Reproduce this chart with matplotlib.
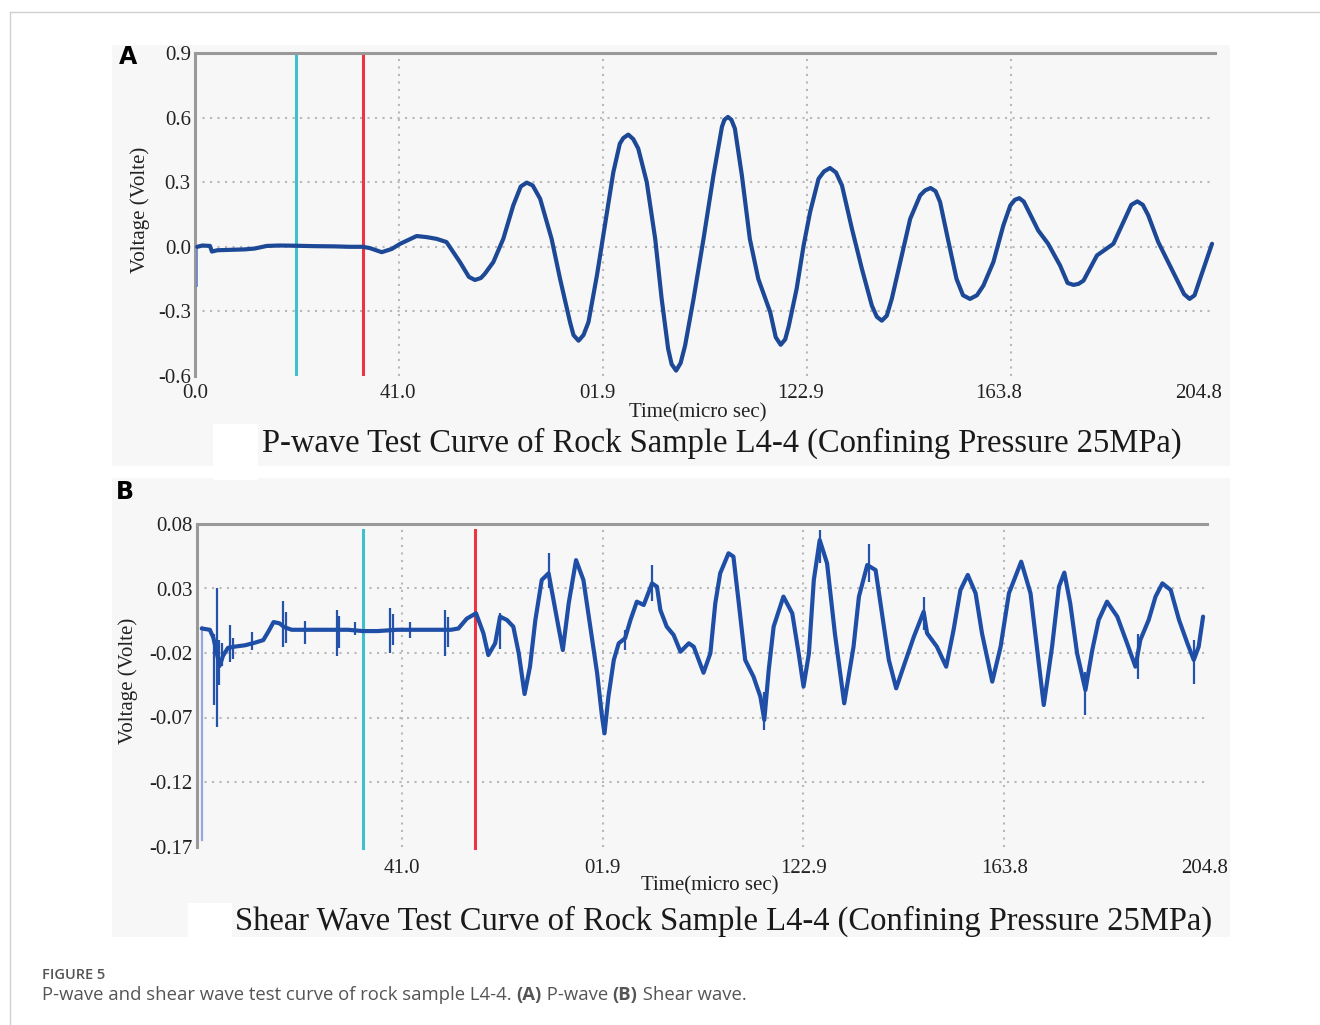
import matplotlib
matplotlib.use('Agg')
import matplotlib.pyplot as plt
from matplotlib.patches import Rectangle
from matplotlib.lines import Line2D

# ---------------- data ----------------
x_grid_vals = [0.0, 40.96, 81.92, 122.88, 163.84, 204.8]
x_tick_labels_a = ['0.0', '41.0', '01.9', '122.9', '163.8', '204.8']
x_tick_labels_b = ['', '41.0', '01.9', '122.9', '163.8', '204.8']
y_ticks_a = [-0.6, -0.3, 0.0, 0.3, 0.6, 0.9]
y_tick_labels_a = ['-0.6', '-0.3', '0.0', '0.3', '0.6', '0.9']
y_ticks_b = [-0.17, -0.12, -0.07, -0.02, 0.03, 0.08]
y_tick_labels_b = ['-0.17', '-0.12', '-0.07', '-0.02', '0.03', '0.08']

p_time = [0.45, 1.5, 3.0, 3.4, 4.5, 7, 10, 12, 14.4, 17, 20, 24, 28, 31, 33.7, 35.1,
          37.5, 39.5, 41.2, 44.5, 46.5, 48.5, 50.5, 53.2, 55.0, 56.2, 57.4, 58.2, 59.9,
          61.9, 63.9, 65.4, 66.6, 67.8, 69.3, 71.6, 73.3, 75.3, 76.0, 77.0, 78.0, 79.0,
          80.7, 82.3, 84.0, 85.3, 86.0, 87.0, 88.0, 89.0, 90.7, 92.4, 93.7, 95.0, 95.7,
          96.6, 97.5, 98.4, 100.1, 102.1, 104.1, 105.8, 106.3, 107.0, 107.7, 108.4,
          109.8, 111.4, 113.1, 115.5, 116.6, 117.6, 118.5, 119.2, 120.8, 122.2, 123.5,
          125.2, 126.3, 127.5, 128.7, 129.9, 131.9, 133.9, 135.9, 136.9, 137.9, 138.9,
          139.9, 141.9, 143.6, 145.6, 146.6, 147.7, 148.7, 149.6, 151.3, 152.9, 154.2,
          155.6, 157.0, 158.3, 160.3, 162.3, 163.7, 164.6, 165.5, 166.4, 167.3, 169.3,
          171.3, 173.7, 175.2, 176.4, 177.4, 178.4, 181.1, 184.4, 186.7, 188.0, 189.2,
          190.3, 191.4, 193.4, 195.4, 197.4, 198.6, 199.7, 200.7, 201.8, 204.2]
p_volt = [0.0, 0.006, 0.004, -0.022, -0.016, -0.014, -0.012, -0.008, 0.004, 0.006, 0.005,
          0.003, 0.002, 0.0, 0.0, -0.006, -0.025, -0.01, 0.014, 0.05, 0.045, 0.037, 0.022,
          -0.071, -0.14, -0.154, -0.145, -0.125, -0.071, 0.037, 0.192, 0.28, 0.298, 0.285,
          0.223, 0.037, -0.149, -0.35, -0.41, -0.436, -0.41, -0.35, -0.133, 0.099, 0.347,
          0.479, 0.505, 0.521, 0.50, 0.456, 0.301, 0.037, -0.242, -0.474, -0.545, -0.575,
          -0.54, -0.459, -0.242, 0.037, 0.332, 0.557, 0.59, 0.603, 0.59, 0.549, 0.332,
          0.037, -0.149, -0.304, -0.42, -0.455, -0.43, -0.37, -0.195, 0.006, 0.161, 0.316,
          0.35, 0.366, 0.345, 0.285, 0.084, -0.102, -0.273, -0.325, -0.343, -0.32, -0.242,
          -0.04, 0.13, 0.239, 0.262, 0.273, 0.258, 0.208, 0.022, -0.149, -0.225, -0.242,
          -0.225, -0.18, -0.071, 0.099, 0.192, 0.218, 0.226, 0.21, 0.169, 0.076, 0.014,
          -0.087, -0.168, -0.177, -0.172, -0.157, -0.04, 0.014, 0.13, 0.195, 0.211, 0.195,
          0.146, 0.022, -0.071, -0.164, -0.22, -0.242, -0.225, -0.149, 0.014]
p_start_t = 0.35
p_start_range = [-0.18, 0.0]
p_cyan_t = 20.3
p_red_t = 33.7

s_time = [0.15, 1.8, 2.5, 3.2, 3.8, 4.5, 5.5, 7, 9, 11, 12.7, 13.8, 14.8, 16, 17, 18.5,
          22, 26, 28, 30, 33, 36, 40, 44, 48, 51, 52.5, 54.2, 56.1, 57.6, 58.6, 60.0,
          61.0, 62.4, 63.7, 64.8, 66.0, 67.1, 68.2, 69.5, 70.9, 71.9, 72.9, 73.8, 75.0,
          76.5, 78.0, 79.4, 80.8, 81.8, 82.3, 83.1, 84.2, 85.2, 86.5, 87.6, 88.9, 90.3,
          92.0, 93.0, 93.7, 95.0, 96.4, 97.8, 99.5, 100.5, 102.5, 103.9, 104.9, 105.9,
          107.6, 108.6, 109.7, 111.0, 112.7, 114.1, 114.9, 115.8, 116.8, 118.8, 120.6,
          121.9, 122.9, 124.0, 125.0, 126.2, 127.7, 129.3, 131.2, 133.1, 134.2, 135.9,
          137.6, 138.9, 140.3, 141.8, 143.3, 145.4, 147.4, 148.1, 150.1, 152.0, 153.5,
          154.9, 156.4, 158.0, 159.3, 161.4, 163.1, 164.8, 167.3, 169.2, 170.5, 171.9,
          173.6, 175.0, 176.1, 177.3, 178.7, 180.4, 181.8, 183.1, 184.8, 186.9, 188.9,
          190.6, 191.6, 193.3, 194.7, 196.1, 197.8, 199.5, 201.2, 202.5, 203.5, 204.4]
s_volt = [-0.001, -0.002, -0.008, -0.02, -0.03, -0.022, -0.016, -0.015, -0.014, -0.012,
          -0.01, -0.003, 0.004, 0.003, 0.0, -0.002, -0.002, -0.002, -0.002, -0.002, -0.003,
          -0.003, -0.002, -0.002, -0.002, -0.002, -0.001, 0.0066, 0.0108, -0.0047, -0.0216,
          -0.0125, 0.0082, 0.0056, 0.0004, -0.02, -0.0518, -0.0306, 0.0056, 0.0366, 0.0418,
          0.0211, 0.0004, -0.0177, 0.0185, 0.052, 0.0366, 0.0004, -0.0357, -0.0694, -0.0823,
          -0.0539, -0.0254, -0.0125, -0.0086, 0.0056, 0.0198, 0.0172, 0.034, 0.0314, 0.0133,
          0.0004, -0.006, -0.019, -0.0125, -0.0151, -0.0353, -0.0202, 0.0185, 0.0418, 0.0573,
          0.0547, 0.0185, -0.0254, -0.0384, -0.0539, -0.0719, -0.0332, 0.0004, 0.0237,
          0.0108, -0.0202, -0.046, -0.0202, 0.0366, 0.0676, 0.0495, -0.005, -0.059, -0.0151,
          0.0237, 0.0482, 0.0443, 0.0108, -0.0254, -0.0474, -0.0306, -0.0074, 0.012, -0.0047,
          -0.0151, -0.0306, -0.0022, 0.0288, 0.0405, 0.0263, -0.0047, -0.0422, -0.0151,
          0.0263, 0.0508, 0.0263, -0.0151, -0.0603, -0.0151, 0.0314, 0.0423, 0.0185, -0.0202,
          -0.0487, -0.0177, 0.0056, 0.0198, 0.0082, -0.0125, -0.0306, -0.0099, 0.0056, 0.0237,
          0.034, 0.0288, 0.0056, -0.0125, -0.0254, -0.0151, 0.0082]
# noise bursts on the shear trace (time, low, high)
s_spike_t = [2.6, 3.2, 3.6, 4.2, 5.9, 6.5, 10.5, 16.8, 17.3, 21.2, 27.7, 28.2, 31.5, 38.6,
             39.1, 42.7, 49.8, 50.3, 61.0, 70.9, 86.5, 92.0, 114.9, 126.2, 136.2, 147.4,
             180.4, 191.2, 202.5]
s_spike_lo = [-0.06, -0.077, -0.045, -0.03, -0.027, -0.025, -0.018, -0.015, -0.012, -0.013,
              -0.022, -0.016, -0.006, -0.02, -0.014, -0.008, -0.022, -0.015, -0.017, 0.03,
              -0.018, 0.02, -0.0797, 0.05, 0.035, -0.002, -0.068, -0.04, -0.044]
s_spike_hi = [-0.005, 0.030, -0.01, -0.012, 0.002, -0.008, -0.004, 0.020, 0.012, 0.005,
              0.013, 0.009, 0.004, 0.015, 0.01, 0.004, 0.013, 0.008, 0.0112, 0.0573,
              -0.002, 0.0483, -0.05, 0.075, 0.0645, 0.0237, -0.035, -0.005, -0.01]
s_start_t = 0.15
s_start_range = [-0.165, 0.0]
s_cyan_t = 33.1
s_red_t = 55.9

title_a = 'P-wave Test Curve of Rock Sample L4-4 (Confining Pressure 25MPa)'
title_b = 'Shear Wave Test Curve of Rock Sample L4-4 (Confining Pressure 25MPa)'
x_label = 'Time(micro sec)'
y_label = 'Voltage (Volte)'

# ---------------- style ----------------
W, H = 1320, 1025
SERIF = ['Liberation Serif', 'DejaVu Serif']
SANS = ['Open Sans', 'DejaVu Sans']
BG = '#f7f7f7'
SPINE = '#999999'
GRID = '#b8b8b8'
BLUE = '#1c4896'
CYAN = '#3fc0cf'
RED = '#ec3442'
# in panel A the printed tick labels sit a little left of their grid lines
label_pos_a = [0.0, 40.8, 80.9, 121.5, 161.4, 201.6]

fig = plt.figure(figsize=(W / 100, H / 100), dpi=100)
fig.patch.set_facecolor('white')


def fx(px):
    return px / W


def fy(py):
    return 1 - py / H


def frect(x0, y0, x1, y1, color, z=0):
    fig.add_artist(Rectangle((fx(x0), fy(y1)), (x1 - x0) / W, (y1 - y0) / H,
                             transform=fig.transFigure, facecolor=color,
                             edgecolor='none', zorder=z))


# outer frame
fig.add_artist(Line2D([fx(10), 1.0], [fy(12), fy(12)], transform=fig.transFigure,
                      color='#d0d0d0', lw=1.0))
fig.add_artist(Line2D([fx(10), fx(10)], [fy(12), 0.0], transform=fig.transFigure,
                      color='#d0d0d0', lw=1.0))

# panel backgrounds
frect(112, 45, 1230, 466, BG)
frect(112, 478, 1230, 937, BG)
frect(213, 424, 258, 480, 'white', z=1)
frect(188, 903, 232, 937, 'white', z=1)


def setup_axes(ax, xlim, ylim, xt, xtl, yt, ytl, xpad, ypad, grid_x):
    ax.set_facecolor(BG)
    ax.set_xlim(*xlim)
    ax.set_ylim(*ylim)
    for s in ['right', 'bottom']:
        ax.spines[s].set_visible(False)
    for s in ['top', 'left']:
        ax.spines[s].set_color(SPINE)
        ax.spines[s].set_linewidth(2.2)
    ax.set_xticks(xt)
    ax.set_xticklabels(xtl, fontfamily=SERIF, fontsize=15, color='#222222')
    ax.set_yticks(yt)
    ax.set_yticklabels(ytl, fontfamily=SERIF, fontsize=15, color='#222222')
    ax.tick_params(axis='x', length=0, pad=xpad)
    ax.tick_params(axis='y', length=0, pad=ypad)
    for t in grid_x[1:-1]:
        ax.axvline(t, color=GRID, lw=1.5, ls=(0, (1, 2.6)), zorder=1)
    for v in yt[1:-1]:
        ax.axhline(v, color=GRID, lw=1.5, ls=(0, (1, 2.6)), zorder=1)


# ---------------- panel A ----------------
axA = fig.add_axes([fx(195), fy(376), 1020 / W, (376 - 53) / H])
setup_axes(axA, (0, 204.8), (-0.6, 0.9), label_pos_a, x_tick_labels_a,
           y_ticks_a, y_tick_labels_a, 6, 3, x_grid_vals)
axA.plot([p_cyan_t, p_cyan_t], [-0.595, 0.888], color=CYAN, lw=2.2, zorder=3)
axA.plot([p_red_t, p_red_t], [-0.6, 0.888], color=RED, lw=2.2, zorder=3)
axA.plot([p_start_t, p_start_t], p_start_range, color='#6f86c8', lw=1.3, zorder=4)
axA.plot(p_time, p_volt, color=BLUE, lw=3.0, solid_joinstyle='round',
         solid_capstyle='round', zorder=5)

# ---------------- panel B ----------------
axB = fig.add_axes([fx(197), fy(846.5), 1010 / W, (846.5 - 524) / H])
setup_axes(axB, (-0.82, 205.2), (-0.17, 0.08), x_grid_vals, x_tick_labels_b,
           y_ticks_b, y_tick_labels_b, 9, 3, x_grid_vals)
axB.plot([s_cyan_t, s_cyan_t], [-0.1715, 0.0753], color=CYAN, lw=2.2, zorder=3,
         clip_on=False)
axB.plot([s_red_t, s_red_t], [-0.1715, 0.0753], color=RED, lw=2.2, zorder=3,
         clip_on=False)
axB.plot([s_start_t, s_start_t], s_start_range, color='#9aa6e0', lw=1.6, zorder=4)
axB.vlines(s_spike_t, s_spike_lo, s_spike_hi, color='#2552aa', lw=1.6, zorder=5)
axB.plot(s_time, s_volt, color='#1f4ea6', lw=3.0, solid_joinstyle='round',
         solid_capstyle='round', zorder=6)

# ---------------- texts ----------------
fig.text(fx(698), fy(413), x_label, ha='center', va='center', fontsize=15,
         family=SERIF, color='#222222')
fig.text(fx(710), fy(886), x_label, ha='center', va='center', fontsize=15,
         family=SERIF, color='#222222')
fig.text(fx(140), fy(210), y_label, ha='center', va='center', rotation=90,
         fontsize=15, family=SERIF, color='#222222')
fig.text(fx(128), fy(681), y_label, ha='center', va='center', rotation=90,
         fontsize=15, family=SERIF, color='#222222')
fig.text(fx(722), fy(443), title_a, ha='center', va='center', fontsize=23.5,
         family=SERIF, color='#1a1a1a', zorder=3)
fig.text(fx(724), fy(921), title_b, ha='center', va='center', fontsize=23.5,
         family=SERIF, color='#1a1a1a', zorder=3)
fig.text(fx(128), fy(57), 'A', ha='center', va='center', fontsize=17,
         fontweight='bold', family=['DejaVu Sans'], color='black')
fig.text(fx(125), fy(492), 'B', ha='center', va='center', fontsize=17,
         fontweight='bold', family=['DejaVu Sans'], color='black')

# caption
CAP = '#555555'
fig.text(fx(42), fy(975), 'FIGURE 5', ha='left', va='center', fontsize=10.5,
         family=SANS, color=CAP, fontweight='semibold')
renderer = fig.canvas.get_renderer()
pieces = [('P-wave and shear wave test curve of rock sample L4-4. ', 'normal'),
          ('(A)', 'bold'), (' P-wave ', 'normal'), ('(B)', 'bold'),
          (' Shear wave.', 'normal')]
xcur = fx(42)
for txt, wt in pieces:
    t = fig.text(xcur, fy(995), txt, ha='left', va='center', fontsize=13.3,
                 family=SANS, color=CAP, fontweight=wt)
    bb = t.get_window_extent(renderer=renderer)
    xcur = bb.x1 / W

fig.savefig('out.png', dpi=100, facecolor='white')
